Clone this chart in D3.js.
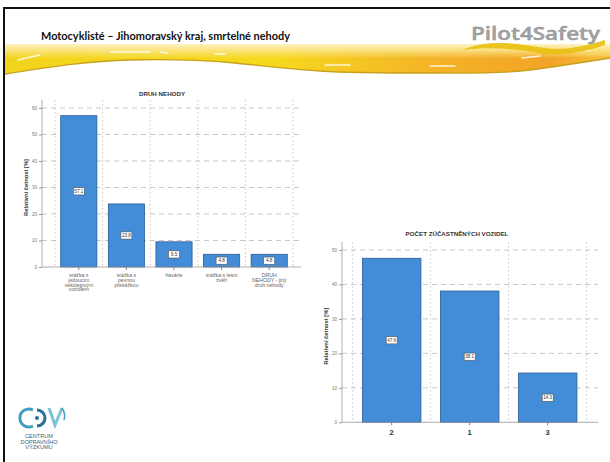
<!DOCTYPE html>
<html>
<head>
<meta charset="utf-8">
<script src="https://cdn.jsdelivr.net/npm/d3@7"></script>
<style>
  html, body { margin: 0; padding: 0; background: #fff; }
  svg { display: block; }
</style>
</head>
<body>
<svg id="slide" width="610" height="462"></svg>
<script>
// Chart 1: type of accident (relative frequency, %)
const druhCategories = [
  "srážka s\njedoucím\nnekolejovým\nvozidlem",
  "srážka s\npevnou\npřekážkou",
  "havárie",
  "srážka s lesní\nzvěří",
  "DRUH\nNEHODY -  jiný\ndruh nehody"
];
const druhValues = [57.1, 23.8, 9.5, 4.8, 4.8];
const druhTicks = [0, 10, 20, 30, 40, 50, 60];

// Chart 2: number of vehicles involved (relative frequency, %)
const vozidlaCategories = ["2", "1", "3"];
const vozidlaValues = [47.6, 38.1, 14.3];
const vozidlaTicks = [0, 10, 20, 30, 40, 50];

const svg = d3.select("#slide");
const defs = svg.append("defs");

// ---------- slide header ----------
const gBand = defs.append("linearGradient").attr("id", "bandH").attr("x1", 0).attr("x2", 1).attr("y1", 0).attr("y2", 0);
gBand.append("stop").attr("offset", "0").attr("stop-color", "#f3d41c");
gBand.append("stop").attr("offset", "0.45").attr("stop-color", "#f6d81e");
gBand.append("stop").attr("offset", "0.72").attr("stop-color", "#f4b228");
gBand.append("stop").attr("offset", "0.9").attr("stop-color", "#f2a426");
gBand.append("stop").attr("offset", "1").attr("stop-color", "#f6c23a");
const gTop = defs.append("linearGradient").attr("id", "bandV").attr("x1", 0).attr("x2", 0).attr("y1", 0).attr("y2", 1);
gTop.append("stop").attr("offset", "0").attr("stop-color", "#fdf3c4").attr("stop-opacity", 1);
gTop.append("stop").attr("offset", "0.45").attr("stop-color", "#fbe68a").attr("stop-opacity", 0.85);
gTop.append("stop").attr("offset", "1").attr("stop-color", "#fbe68a").attr("stop-opacity", 0);

const bandPath = "M5,44 L610,44 L610,58 C585,62 560,66 530,70 C500,74 470,73 430,73 " +
  "C390,73 350,73 320,71 C290,69 265,66 235,63 C200,60 170,59 130,60 C90,61 55,66 5,74 Z";
svg.append("path").attr("d", bandPath).attr("fill", "url(#bandH)");
svg.append("path").attr("d", "M5,44 L610,44 L610,56 C500,60 300,58 5,58 Z").attr("fill", "url(#bandV)");
// dark golden lower rim of the swoosh
svg.append("path")
  .attr("d", "M5,74 C55,66 90,61 130,60 C170,59 200,60 235,63 C265,66 290,69 320,71 C350,73 390,73 430,73 C470,73 500,74 530,70 C560,66 585,62 610,58")
  .attr("fill", "none").attr("stroke", "#c8a020").attr("stroke-width", 1.3);
// light streaks across the swoosh
const streaks = [
  "M18,60 Q30,57 40,55", "M110,52 L150,52", "M160,52 L168,53", "M215,54 L225,54",
  "M325,65 L350,65", "M430,66 L455,66", "M522,58 L540,56", "M575,52 L590,50"
];
svg.selectAll("path.streak").data(streaks).join("path")
  .attr("class", "streak").attr("d", d => d)
  .attr("fill", "none").attr("stroke", "#fffbe8").attr("stroke-width", 1.4)
  .attr("stroke-linecap", "round").attr("opacity", 0.9);
// swoosh under the logo
svg.append("path")
  .attr("d", "M462,50 C490,38 520,44 545,48 C565,51 585,46 605,40 L605,45 C585,52 565,56 545,54 C520,50 495,46 462,50 Z")
  .attr("fill", "#e9c010").attr("opacity", 0.9);

// slide frame
svg.append("line").attr("x1", 4).attr("x2", 610).attr("y1", 8).attr("y2", 8).attr("stroke", "#111").attr("stroke-width", 2);
svg.append("line").attr("x1", 4).attr("x2", 4).attr("y1", 7).attr("y2", 462).attr("stroke", "#111").attr("stroke-width", 2);

svg.append("text")
  .attr("x", 41).attr("y", 40)
  .attr("font-family", "Lato, 'Open Sans', sans-serif").attr("font-weight", 700)
  .attr("font-size", 10.5).attr("fill", "#111")
  .attr("textLength", 249).attr("lengthAdjust", "spacingAndGlyphs")
  .text("Motocyklisté – Jihomoravský kraj, smrtelné nehody");

svg.append("text")
  .attr("x", 471).attr("y", 40)
  .attr("font-family", "'Open Sans', sans-serif").attr("font-weight", 600)
  .attr("font-size", 18).attr("fill", "#a3a3a3").attr("stroke", "#8c8c8c").attr("stroke-width", 0.4)
  .attr("textLength", 129).attr("lengthAdjust", "spacingAndGlyphs")
  .text("Pilot4Safety");

// ---------- CDV logo ----------
const logo = svg.append("g");
logo.append("path").attr("d", "M33,410 A9,9 0 1 0 33,426").attr("fill", "none").attr("stroke", "#3f9fc0").attr("stroke-width", 3);
logo.append("path").attr("d", "M37,410 A8,8 0 0 1 37,426").attr("fill", "none").attr("stroke", "#2b6f9a").attr("stroke-width", 3);
logo.append("circle").attr("cx", 37).attr("cy", 418).attr("r", 2).attr("fill", "#2b6f9a");
logo.append("path").attr("d", "M49,408 L55,425 L62,408").attr("fill", "none").attr("stroke", "#7fc2d8").attr("stroke-width", 3);
logo.append("path").attr("d", "M62,408 Q66,414 64,420").attr("fill", "none").attr("stroke", "#3f9fc0").attr("stroke-width", 1.5);
["CENTRUM", "DOPRAVNÍHO", "VÝZKUMU"].forEach((t, i) => {
  logo.append("text").attr("x", 39).attr("y", 438 + i * 5.6)
    .attr("text-anchor", "middle").attr("font-family", "'Liberation Sans', Arial, sans-serif")
    .attr("font-size", 5.6).attr("fill", "#3a5f7a").text(t);
});

// ---------- generic bar chart ----------
function barChart(opt) {
  const g = svg.append("g");
  const y = d3.scaleLinear().domain(opt.domain).range([opt.y0, opt.yTop]);
  const x = d3.scaleBand().domain(opt.categories).range([opt.xBand0, opt.xBand1]).padding(0);
  const grid = "#b9b9b9";

  // horizontal dashed grid
  g.selectAll("line.hg").data(opt.ticks.filter(t => t > 0)).join("line")
    .attr("x1", opt.axisX).attr("x2", opt.axisEnd)
    .attr("y1", d => y(d)).attr("y2", d => y(d))
    .attr("stroke", grid).attr("stroke-width", 0.8).attr("stroke-dasharray", "5,4");
  // vertical dotted grid at band boundaries
  const bounds = opt.categories.map(c => x(c)).concat([x.range()[1]]);
  g.selectAll("line.vg").data(bounds).join("line")
    .attr("x1", d => d).attr("x2", d => d)
    .attr("y1", opt.yTop - 8).attr("y2", opt.y0)
    .attr("stroke", grid).attr("stroke-width", 0.8).attr("stroke-dasharray", "1.5,2.5");

  // bars
  const bw = x.bandwidth() * opt.barFrac;
  const off = (x.bandwidth() - bw) / 2;
  g.selectAll("rect.bar").data(opt.values).join("rect")
    .attr("x", (d, i) => x(opt.categories[i]) + off)
    .attr("width", bw)
    .attr("y", d => y(d)).attr("height", d => y(0) - y(d))
    .attr("fill", "#438dd8").attr("stroke", "#2a5e96").attr("stroke-width", 0.8);

  // y axis
  const yAxis = d3.axisLeft(y).tickValues(opt.ticks).tickSize(3).tickPadding(2).tickFormat(d3.format("d"));
  const ya = g.append("g").attr("transform", `translate(${opt.axisX},0)`).call(yAxis);
  ya.select(".domain").attr("d", `M0,${opt.yTop - 8}V${opt.y0}`).attr("stroke", "#999").attr("stroke-width", 0.8);
  ya.selectAll(".tick line").attr("stroke", "#999");
  ya.selectAll(".tick text").attr("font-size", 4.5).attr("fill", "#777").attr("font-family", "'Liberation Sans', Arial, sans-serif");

  // x axis
  const xAxis = d3.axisBottom(x).tickSize(3).tickFormat("");
  const xa = g.append("g").attr("transform", `translate(0,${opt.y0})`).call(xAxis);
  xa.select(".domain").attr("d", `M${opt.axisX},0H${opt.axisEnd}`).attr("stroke", "#999").attr("stroke-width", 0.8);
  xa.selectAll(".tick line").attr("stroke", "#888");

  // category labels
  g.selectAll("text.cat").data(opt.categories).join("text")
    .attr("class", "cat")
    .attr("x", d => x(d) + x.bandwidth() / 2)
    .attr("y", opt.y0 + opt.catDy)
    .attr("text-anchor", "middle")
    .attr("font-family", "'Liberation Sans', Arial, sans-serif")
    .attr("font-size", opt.catSize).attr("font-weight", opt.catWeight)
    .attr("fill", opt.catColor)
    .each(function (d) {
      const t = d3.select(this);
      d.split("\n").forEach((line, i) => {
        t.append("tspan").attr("x", x(d) + x.bandwidth() / 2).attr("dy", i === 0 ? 0 : opt.catLine).text(line);
      });
    });

  // value labels in boxes at the middle of each bar
  const vl = g.selectAll("g.vl").data(opt.values).join("g")
    .attr("transform", (d, i) => `translate(${x(opt.categories[i]) + x.bandwidth() / 2},${(y(d) + y(0)) / 2})`);
  vl.append("rect").attr("x", -5.5).attr("y", -3.6).attr("width", 11).attr("height", 7.2)
    .attr("fill", "#fff").attr("stroke", "#555").attr("stroke-width", 0.6);
  vl.append("text").attr("text-anchor", "middle").attr("dy", 1.7)
    .attr("font-family", "'Liberation Sans', Arial, sans-serif").attr("font-size", 4.6).attr("fill", "#333")
    .text(d => d3.format(".1f")(d));

  // title
  g.append("text").attr("x", opt.titleX).attr("y", opt.titleY).attr("text-anchor", "middle")
    .attr("font-family", "'Liberation Sans', Arial, sans-serif").attr("font-size", 6.2)
    .attr("font-weight", 700).attr("fill", "#333").text(opt.title);

  // y axis title
  g.append("text")
    .attr("transform", `translate(${opt.yLabelX},${(opt.y0 + opt.yTop) / 2}) rotate(-90)`)
    .attr("text-anchor", "middle")
    .attr("font-family", "'Liberation Sans', Arial, sans-serif").attr("font-size", 5.8)
    .attr("font-weight", 700).attr("fill", "#333").text("Relativní četnost [%]");
}

barChart({
  categories: druhCategories, values: druhValues, ticks: druhTicks, domain: [0, 60],
  y0: 267, yTop: 108, xBand0: 55, xBand1: 293, axisX: 42, axisEnd: 301, barFrac: 0.76,
  catDy: 10, catLine: 4.8, catSize: 5.2, catWeight: 400, catColor: "#666",
  title: "DRUH NEHODY", titleX: 162, titleY: 96, yLabelX: 28
});

barChart({
  categories: vozidlaCategories, values: vozidlaValues, ticks: vozidlaTicks, domain: [0, 50],
  y0: 422.3, yTop: 250, xBand0: 352.7, xBand1: 586.7, axisX: 342, axisEnd: 598, barFrac: 0.75,
  catDy: 13, catLine: 8, catSize: 7.5, catWeight: 700, catColor: "#333",
  title: "POČET ZÚČASTNĚNÝCH VOZIDEL", titleX: 457, titleY: 236, yLabelX: 328
});
</script>
</body>
</html>
